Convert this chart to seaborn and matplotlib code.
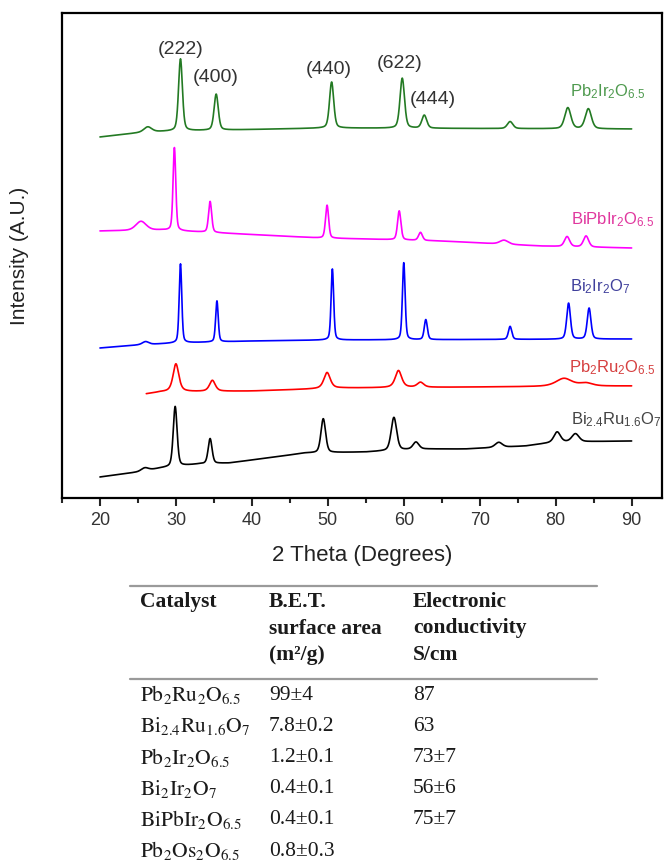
import numpy as np
import pandas as pd
import matplotlib
matplotlib.use('Agg')
import matplotlib.pyplot as plt
from matplotlib.lines import Line2D
from matplotlib.ticker import MultipleLocator
import seaborn as sns

# ---- XRD traces (2theta in deg, intensity in A.U., stacked) ----
# Pb2Ir2O6.5 (green, top)
pbir_start = 20
pbir_base_x = [20, 26, 30, 50, 90]
pbir_base_y = [361, 366, 367, 370, 369]
pbir_pos = [26.3, 30.6, 35.3, 50.5, 59.8, 62.7, 74.0, 81.6, 84.3]
pbir_hgt = [5, 72, 36, 46, 50, 13, 7, 21, 20]
pbir_fwhm = [1.2, 0.6, 0.65, 0.65, 0.7, 0.75, 0.85, 0.95, 0.95]

# BiPbIr2O6.5 (magenta)
bipb_start = 20
bipb_base_x = [20, 28, 36, 49, 55, 65, 78, 90]
bipb_base_y = [267, 268, 265, 260, 259, 257, 252, 250]
bipb_pos = [25.4, 29.8, 34.5, 49.9, 59.4, 62.2, 73.2, 81.5, 84.0]
bipb_hgt = [9, 83, 31, 33, 29, 8, 4, 10, 11]
bipb_fwhm = [1.6, 0.42, 0.48, 0.48, 0.52, 0.6, 1.3, 0.8, 0.8]

# Bi2Ir2O7 (blue)
biir_start = 20
biir_base_x = [20, 25, 30, 40, 50, 90]
biir_base_y = [150, 153, 155, 157, 158, 159]
biir_pos = [26.0, 30.6, 35.4, 50.6, 60.0, 62.9, 74.0, 81.7, 84.4]
biir_hgt = [3, 79, 41, 71, 77, 20, 13, 36, 31]
biir_fwhm = [1.0, 0.4, 0.4, 0.4, 0.42, 0.48, 0.52, 0.58, 0.58]

# Pb2Ru2O6.5 (red)
pbru_start = 26.1
pbru_base_x = [26, 28, 40, 52, 70, 90]
pbru_base_y = [104, 106, 107, 110, 111, 112]
pbru_pos = [30.0, 34.8, 49.9, 59.3, 62.2, 81.1, 84.0]
pbru_hgt = [28, 11, 16, 17, 5, 8, 3]
pbru_fwhm = [0.9, 0.9, 1.0, 1.0, 1.0, 2.5, 2.0]

# Bi2.4Ru1.6O7 (black, bottom)
biru_start = 20
biru_base_x = [20, 25, 28, 33, 37, 47, 55, 62, 68, 76, 80, 90]
biru_base_y = [21, 26, 30, 34, 35, 45, 46, 49, 49, 52, 56, 57]
biru_pos = [25.9, 29.9, 34.5, 49.4, 58.7, 61.6, 72.5, 80.2, 82.6]
biru_hgt = [3, 60, 25, 34, 33, 7, 5, 10, 8]
biru_fwhm = [1.1, 0.6, 0.6, 0.72, 0.85, 0.9, 1.1, 1.0, 1.1]

hkl_labels = ['(222)', '(400)', '(440)', '(622)', '(444)']

# ---- table data ----
tbl_catalyst = [r'$\mathrm{Pb_2Ru_2O_{6.5}}$', r'$\mathrm{Bi_{2.4}Ru_{1.6}O_7}$',
                r'$\mathrm{Pb_2Ir_2O_{6.5}}$', r'$\mathrm{Bi_2Ir_2O_7}$',
                r'$\mathrm{BiPbIr_2O_{6.5}}$', r'$\mathrm{Pb_2Os_2O_{6.5}}$']
tbl_bet = ['99±4', '7.8±0.2', '1.2±0.1', '0.4±0.1', '0.4±0.1', '0.8±0.3']
tbl_cond = ['87', '63', '73±7', '56±6', '75±7', '']


def pattern(name, start, bx, by, pos, hgt, fwhm, eta=0.35):
    x = np.arange(start, 90.001, 0.02)
    y = np.interp(x, bx, by)
    for p, h, w in zip(pos, hgt, fwhm):
        d = 4 * (x - p) ** 2 / w ** 2
        y = y + h * (eta / (1 + d) + (1 - eta) * np.exp(-np.log(2) * d))
    return pd.DataFrame({'two_theta': x, 'intensity': y, 'sample': name})


df = pd.concat([
    pattern('Pb2Ir2O6.5', pbir_start, pbir_base_x, pbir_base_y, pbir_pos, pbir_hgt, pbir_fwhm),
    pattern('BiPbIr2O6.5', bipb_start, bipb_base_x, bipb_base_y, bipb_pos, bipb_hgt, bipb_fwhm),
    pattern('Bi2Ir2O7', biir_start, biir_base_x, biir_base_y, biir_pos, biir_hgt, biir_fwhm),
    pattern('Pb2Ru2O6.5', pbru_start, pbru_base_x, pbru_base_y, pbru_pos, pbru_hgt, pbru_fwhm, eta=0.6),
    pattern('Bi2.4Ru1.6O7', biru_start, biru_base_x, biru_base_y, biru_pos, biru_hgt, biru_fwhm),
], ignore_index=True)

line_colors = {'Pb2Ir2O6.5': '#237a23', 'BiPbIr2O6.5': '#ff00ff', 'Bi2Ir2O7': '#0000ff',
               'Pb2Ru2O6.5': '#ff0000', 'Bi2.4Ru1.6O7': '#000000'}

# label text, colour and position (layout only)
sample_text = {
    'Pb2Ir2O6.5': (r'Pb$_2$Ir$_2$O$_{6.5}$', '#4f9a4f', 86.8, 406),
    'BiPbIr2O6.5': (r'BiPbIr$_2$O$_{6.5}$', '#e0379e', 87.5, 278),
    'Bi2Ir2O7': (r'Bi$_2$Ir$_2$O$_7$', '#40409c', 85.8, 211),
    'Pb2Ru2O6.5': (r'Pb$_2$Ru$_2$O$_{6.5}$', '#d64040', 87.5, 130),
    'Bi2.4Ru1.6O7': (r'Bi$_{2.4}$Ru$_{1.6}$O$_7$', '#444444', 88.0, 78),
}
hkl_xy = [(30.66, 449), (35.26, 420), (50.13, 428), (59.47, 434), (63.8, 399)]

sns.set_theme(style='white')
plt.rcParams['font.family'] = ['Liberation Sans', 'DejaVu Sans']
plt.rcParams['mathtext.fontset'] = 'custom'
plt.rcParams['mathtext.rm'] = 'Liberation Sans'
plt.rcParams['mathtext.it'] = 'Liberation Sans:italic'

fig = plt.figure(figsize=(6.65, 8.65), dpi=100)
ax = fig.add_axes([62 / 665, 1 - 498 / 865, 600 / 665, 485 / 865])

sns.lineplot(data=df, x='two_theta', y='intensity', hue='sample', palette=line_colors,
             estimator=None, sort=False, legend=False, linewidth=1.2, ax=ax)

ax.set_xlim(15, 94)
ax.set_ylim(0, 485)
ax.xaxis.set_major_locator(MultipleLocator(10))
ax.xaxis.set_minor_locator(MultipleLocator(5))
ax.tick_params(axis='x', which='major', bottom=True, direction='out', length=6, width=1.5,
               labelsize=13, labelcolor='#333333', pad=4)
ax.tick_params(axis='x', which='minor', bottom=True, direction='out', length=3.5, width=1.5)
ax.tick_params(axis='y', left=False, labelleft=False)
for sp in ax.spines.values():
    sp.set_color('black')
    sp.set_linewidth(1.6)

ax.set_xlabel('2 Theta (Degrees)', fontsize=16, color='#222222')
ax.xaxis.label.set_va('center')
ax.xaxis.set_label_coords(0.5, (498 - 555) / 485)
ax.set_ylabel('Intensity (A.U.)', fontsize=15, color='#222222')
ax.yaxis.label.set_va('center')
ax.yaxis.set_label_coords((20 - 62) / 600, 0.5)

for lab, (x, y) in zip(hkl_labels, hkl_xy):
    ax.text(x, y, lab, fontsize=14, color='#333333', ha='center', va='center')
for name, (txt, col, x, y) in sample_text.items():
    ax.text(x, y, txt, fontsize=12, color=col, ha='center', va='center')

# ---- table below the plot ----
def fy(py):
    return 1 - py / 865

def fx(px):
    return px / 665

for py in (586, 679):
    fig.add_artist(Line2D([fx(130), fx(597)], [fy(py), fy(py)], color='#9a9a9a', linewidth=1.6))

col_x = [140, 269, 413]
head = [['Catalyst'], ['B.E.T.', 'surface area', '(m²/g)'], ['Electronic', 'conductivity', 'S/cm']]
tcol = '#1a1a1a'
for cx, lines in zip(col_x, head):
    for i, t in enumerate(lines):
        fig.text(fx(cx), fy(602 + 26.5 * i), t, fontsize=15.5, fontweight='bold', family='Liberation Serif',
                 color=tcol, ha='left', va='center')

for i, (c, b, e) in enumerate(zip(tbl_catalyst, tbl_bet, tbl_cond)):
    yy = fy(695 + 31.2 * i)
    fig.text(fx(col_x[0]), yy, c, fontsize=15.5, math_fontfamily='stix', color=tcol, ha='left', va='center')
    fig.text(fx(col_x[1]), yy, b, fontsize=15.5, family='Liberation Serif', color=tcol, ha='left', va='center')
    fig.text(fx(col_x[2]), yy, e, fontsize=15.5, family='Liberation Serif', color=tcol, ha='left', va='center')

fig.savefig('out.png', dpi=100)
